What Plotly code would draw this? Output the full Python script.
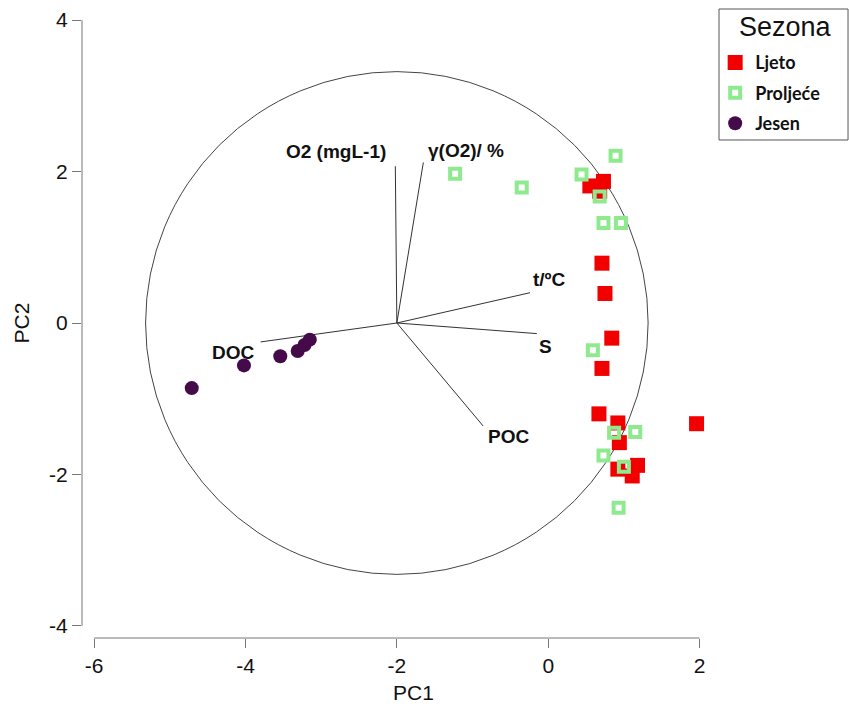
import plotly.graph_objects as go

# ---------------- data ----------------
ljeto_x = [0.55, 0.73, 0.68, 0.71, 0.75, 0.84, 0.71, 0.67, 0.92, 0.94, 0.92, 1.18, 1.11, 1.96]
ljeto_y = [1.81, 1.87, 1.74, 0.79, 0.39, -0.20, -0.60, -1.20, -1.32, -1.58, -1.93, -1.88, -2.02, -1.33]

proljece_x = [-1.23, -0.35, 0.44, 0.89, 0.68, 0.73, 0.96, 0.59, 0.87, 1.15, 0.73, 1.00, 0.93]
proljece_y = [1.97, 1.79, 1.96, 2.21, 1.67, 1.32, 1.32, -0.36, -1.45, -1.44, -1.75, -1.90, -2.44]

jesen_x = [-4.71, -4.02, -3.54, -3.31, -3.22, -3.15]
jesen_y = [-0.86, -0.56, -0.44, -0.37, -0.29, -0.22]

# loading vectors (from origin)
origin = (-2.0, 0.0)
load_names = ["O2 (mgL-1)", "γ(O2)/ %", "t/ºC", "S", "POC", "DOC"]
load_dx = [-0.02, 0.35, 1.76, 1.85, 1.14, -1.80]
load_dy = [2.07, 2.12, 0.40, -0.14, -1.36, -0.25]
label_x = [-2.80, -1.09, 0.02, -0.03, -0.53, -4.16]
label_y = [2.27, 2.28, 0.575, -0.31, -1.50, -0.39]

circle_r = 3.32

x_ticks = [-6, -4, -2, 0, 2]
x_ticktext = ["-6", "-4", "-2", "0", "2"]
y_ticks = [-4, -2, 0, 2, 4]
y_ticktext = ["-4", "-2", "0", "2", "4"]

legend_title = "Sezona"

# ---------------- figure ----------------
fig = go.Figure()

# loading lines
for n, dx, dy in zip(load_names, load_dx, load_dy):
    fig.add_trace(go.Scatter(x=[origin[0], origin[0] + dx], y=[origin[1], origin[1] + dy],
                             mode="lines", line=dict(color="#333333", width=1),
                             showlegend=False, hoverinfo="skip"))

fig.add_trace(go.Scatter(x=ljeto_x, y=ljeto_y, mode="markers", name="Ljeto",
                         legendgroup="a",
                         marker=dict(symbol="square", size=15, color="#F20000",
                                     line=dict(width=0))))
fig.add_trace(go.Scatter(x=proljece_x, y=proljece_y, mode="markers", name="Proljeće",
                         legendgroup="b",
                         marker=dict(symbol="square-open", size=10, color="#8FEA8F",
                                     line=dict(width=4, color="#8FEA8F"))))
fig.add_trace(go.Scatter(x=jesen_x, y=jesen_y, mode="markers", name="Jesen",
                         legendgroup="c",
                         marker=dict(symbol="circle", size=14, color="#440A4A",
                                     line=dict(width=0))))

# correlation circle
fig.add_shape(type="circle", xref="x", yref="y",
              x0=origin[0] - circle_r, x1=origin[0] + circle_r,
              y0=origin[1] - circle_r, y1=origin[1] + circle_r,
              line=dict(color="#444444", width=1), layer="below")

# detached axis lines
fig.add_shape(type="line", xref="x", yref="paper", x0=x_ticks[0], x1=x_ticks[-1], y0=0, y1=0,
              line=dict(color="#777777", width=1))
fig.add_shape(type="line", xref="paper", yref="y", x0=0, x1=0, y0=y_ticks[0], y1=y_ticks[-1],
              line=dict(color="#777777", width=1))

# legend frame
fig.add_shape(type="rect", xref="paper", yref="paper", x0=0.9608, x1=1.1554, y0=0.7905, y1=0.9984,
              line=dict(color="#555555", width=1), fillcolor="white", layer="below")
fig.add_annotation(xref="paper", yref="paper", x=1.061, y=0.9705, text=legend_title,
                   showarrow=False, xanchor="center", yanchor="middle",
                   font=dict(family="Liberation Sans", size=27, color="#111111"))

for n, lx, ly in zip(load_names, label_x, label_y):
    fig.add_annotation(x=lx, y=ly, text=n, showarrow=False,
                       font=dict(family="Liberation Sans", size=19, color="#111111", weight="bold"))

fig.update_layout(
    width=849, height=706,
    margin=dict(l=82, r=104, t=8, b=68),
    plot_bgcolor="white", paper_bgcolor="white",
    font=dict(family="Liberation Sans", color="#111111"),
    xaxis=dict(range=[-6.16, 2.6], tickvals=x_ticks, ticktext=x_ticktext, showgrid=False,
               zeroline=False, automargin=False,
               showline=False, ticks="outside", ticklen=9, tickcolor="#777777",
               tickfont=dict(size=21), title=dict(text="PC1", font=dict(size=21), standoff=9)),
    yaxis=dict(range=[-4.16, 4.16], tickvals=y_ticks, ticktext=y_ticktext, showgrid=False,
               zeroline=False, automargin=False,
               showline=False, ticks="outside", ticklen=9, tickcolor="#777777",
               tickfont=dict(size=21), title=dict(text="PC2", font=dict(size=21), standoff=13)),
    legend=dict(x=0.955, y=0.9425, xanchor="left", yanchor="top",
                font=dict(family="Lato", size=18, weight="bold", color="#111111"),
                borderwidth=0, bgcolor="rgba(0,0,0,0)",
                tracegroupgap=4, traceorder="grouped"),
    showlegend=True,
)

fig.write_html("out.html", config={"displayModeBar": False},
               post_script="document.body.style.margin='0px';")
